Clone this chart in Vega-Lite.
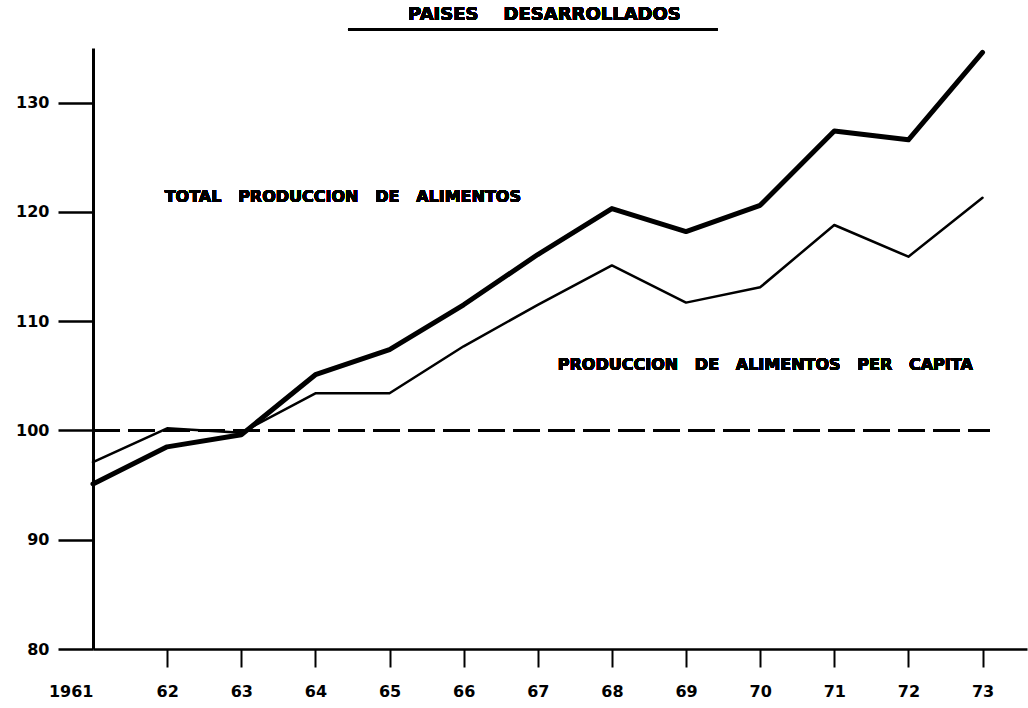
{
  "$schema": "https://vega.github.io/schema/vega-lite/v6.json",
  "autosize": {"type": "none"},
  "padding": {"left": 93, "top": 48, "right": 1, "bottom": 59},
  "width": 934,
  "height": 601,
  "background": "white",
  "config": {
    "view": {"stroke": null},
    "font": "DejaVu Sans",
    "axis": {"grid": false, "domainColor": "black", "tickColor": "black", "labelColor": "black", "labelFont": "DejaVu Sans", "labelFontWeight": "bold", "labelFontSize": 16, "title": null}
  },
  "data": {
    "values": [
      {"year": 1961, "series": "Total", "value": 95.1},
      {"year": 1962, "series": "Total", "value": 98.5},
      {"year": 1963, "series": "Total", "value": 99.6},
      {"year": 1964, "series": "Total", "value": 105.1},
      {"year": 1965, "series": "Total", "value": 107.4},
      {"year": 1966, "series": "Total", "value": 111.5},
      {"year": 1967, "series": "Total", "value": 116.1},
      {"year": 1968, "series": "Total", "value": 120.3},
      {"year": 1969, "series": "Total", "value": 118.2},
      {"year": 1970, "series": "Total", "value": 120.6},
      {"year": 1971, "series": "Total", "value": 127.4},
      {"year": 1972, "series": "Total", "value": 126.6},
      {"year": 1973, "series": "Total", "value": 134.6},
      {"year": 1961, "series": "Per capita", "value": 97.1},
      {"year": 1962, "series": "Per capita", "value": 100.2},
      {"year": 1963, "series": "Per capita", "value": 99.8},
      {"year": 1964, "series": "Per capita", "value": 103.4},
      {"year": 1965, "series": "Per capita", "value": 103.4},
      {"year": 1966, "series": "Per capita", "value": 107.7},
      {"year": 1967, "series": "Per capita", "value": 111.5},
      {"year": 1968, "series": "Per capita", "value": 115.1},
      {"year": 1969, "series": "Per capita", "value": 111.7},
      {"year": 1970, "series": "Per capita", "value": 113.1},
      {"year": 1971, "series": "Per capita", "value": 118.8},
      {"year": 1972, "series": "Per capita", "value": 115.9},
      {"year": 1973, "series": "Per capita", "value": 121.3}
    ]
  },
  "layer": [
    {
      "mark": {"type": "rule", "color": "black", "strokeWidth": 2.5, "strokeDash": [27, 8]},
      "encoding": {
        "x": {"datum": 1961, "type": "quantitative"},
        "x2": {"datum": 1973.1},
        "y": {"datum": 100, "type": "quantitative"}
      }
    },
    {
      "mark": {"type": "line", "color": "black", "strokeJoin": "round", "strokeCap": "round"},
      "encoding": {
        "x": {
          "field": "year", "type": "quantitative",
          "scale": {"domain": [1961, 1973.6], "nice": false, "zero": false},
          "axis": {
            "values": [1961, 1962, 1963, 1964, 1965, 1966, 1967, 1968, 1969, 1970, 1971, 1972, 1973],
            "labelExpr": "datum.value == 1961 ? '1961' : slice(toString(datum.value), 2)",
            "labelAlign": {"condition": {"test": "datum.value == 1961", "value": "right"}, "value": "center"},
            "tickOpacity": {"condition": {"test": "datum.value == 1961", "value": 0}, "value": 1},
            "domainWidth": 2.5, "tickSize": 18, "tickWidth": 2, "labelPadding": 16
          }
        },
        "y": {
          "field": "value", "type": "quantitative",
          "scale": {"domain": [80, 135], "nice": false, "zero": false},
          "axis": {"values": [80, 90, 100, 110, 120, 130], "domainWidth": 3, "tickSize": 35, "tickWidth": 2.5, "labelPadding": 9}
        },
        "detail": {"field": "series", "type": "nominal"},
        "strokeWidth": {"field": "series", "type": "nominal", "scale": {"domain": ["Total", "Per capita"], "range": [5, 2.5]}, "legend": null}
      }
    },
    {
      "mark": {"type": "rule", "color": "black", "strokeWidth": 2.5, "clip": false},
      "encoding": {
        "x": {"datum": 1964.44, "type": "quantitative"},
        "x2": {"datum": 1969.42},
        "y": {"datum": 136.7, "type": "quantitative"}
      }
    },
    {
      "mark": {"type": "text", "align": "center", "baseline": "middle", "fontSize": 18, "fontWeight": "bold", "font": "DejaVu Sans", "color": "black", "clip": false},
      "encoding": {
        "x": {"datum": 1967.09, "type": "quantitative"},
        "y": {"datum": 138.0, "type": "quantitative"},
        "text": {"value": "PAISES\u00a0\u00a0\u00a0\u00a0DESARROLLADOS"}
      }
    },
    {
      "mark": {"type": "text", "align": "center", "baseline": "middle", "fontSize": 16, "fontWeight": "bold", "font": "DejaVu Sans", "color": "black"},
      "encoding": {
        "x": {"datum": 1964.37, "type": "quantitative"},
        "y": {"datum": 121.4, "type": "quantitative"},
        "text": {"value": "TOTAL\u00a0\u00a0\u00a0PRODUCCION\u00a0\u00a0\u00a0DE\u00a0\u00a0\u00a0ALIMENTOS"}
      }
    },
    {
      "mark": {"type": "text", "align": "center", "baseline": "middle", "fontSize": 16, "fontWeight": "bold", "font": "DejaVu Sans", "color": "black"},
      "encoding": {
        "x": {"datum": 1970.07, "type": "quantitative"},
        "y": {"datum": 106.0, "type": "quantitative"},
        "text": {"value": "PRODUCCION\u00a0\u00a0\u00a0DE\u00a0\u00a0\u00a0ALIMENTOS\u00a0\u00a0\u00a0PER\u00a0\u00a0\u00a0CAPITA"}
      }
    }
  ]
}
